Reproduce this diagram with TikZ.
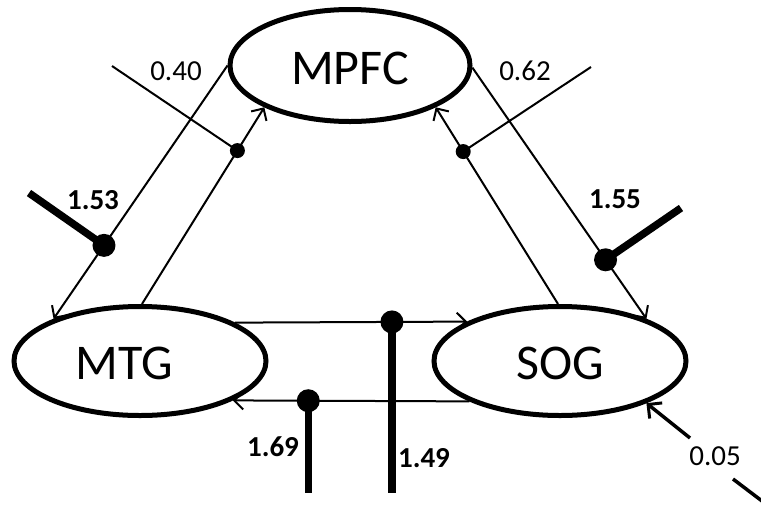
\documentclass[tikz,border=0pt]{standalone}
\usepackage{fontspec}
\setmainfont{Carlito}
\usetikzlibrary{arrows.meta,shapes.geometric}
\begin{document}
\begin{tikzpicture}[x=1pt,y=-1pt,
  region/.style={draw, ellipse, line width=5pt, minimum width=252pt, minimum height=109pt, inner sep=0pt, font=\fontsize{50}{60}\selectfont},
  conn/.style={line width=2pt, -{Straight Barb[length=9pt,width=18pt,line width=2pt]}},
  connext/.style={line width=3.5pt, -{Straight Barb[length=10pt,width=20pt,line width=3pt]}},
  modthin/.style={line width=2pt},
  modext/.style={line width=3.5pt},
  modthick/.style={line width=7.5pt},
  dotsmall/.style={circle, fill, inner sep=0pt, minimum size=15pt},
  dotbig/.style={circle, fill, inner sep=0pt, minimum size=23pt},
  lab/.style={inner sep=0pt, font=\fontsize{29}{34}\selectfont},
  blab/.style={inner sep=0pt, font=\fontsize{29}{34}\selectfont\bfseries}
]
\useasboundingbox (0,0) rectangle (761,507);

\node[region, minimum width=240pt, minimum height=112pt] (MPFC) at (350,65.5) {\raisebox{-3pt}[\height][\depth]{MPFC}};
\node[region] (MTG) at (140,361) {\raisebox{-2pt}[\height][\depth]{MTG\kern32pt}};
\node[region] (SOG) at (560,361) {\raisebox{-2pt}[\height][\depth]{SOG}};

\coordinate (m40) at (112,66);
\coordinate (m62) at (591,67);
\coordinate (t53) at (29,193);
\coordinate (t55) at (681,208);
\coordinate (bot) at (0,493);
\coordinate (e0) at (762,501);
\coordinate (e1) at (733,479);
\coordinate (e2) at (690,438);

\draw[conn] (MTG.88) -- node[dotsmall, pos=0.78] (d40) {} (MPFC.-154.5);
\draw[conn] (MPFC.180) -- node[dotbig, pos=0.71] (d53) {} (MTG.154);
\draw[conn] (SOG.92) -- node[dotsmall, pos=0.775] (d62) {} (MPFC.-26);
\draw[conn] (MPFC.-1) -- node[dotbig, pos=0.765] (d55) {} (SOG.26);
\draw[conn] (MTG.22.6) -- node[dotbig, pos=0.676] (d49) {} (SOG.157.4);
\draw[conn] (SOG.-156.4) -- node[dotbig, pos=0.681] (d69) {} (MTG.-23.6);

\draw[modthin] (m40) -- (d40.center);
\draw[modthin] (m62) -- (d62.center);
\draw[modthick] (t53) -- (d53.center);
\draw[modthick] (t55) -- (d55.center);
\draw[modthick] (d49.center) -- (d49.center |- bot);
\draw[modthick] (d69.center) -- (d69.center |- bot);

\draw[modext] (e0) -- (e1);
\draw[connext] (e2) -- (SOG.-26);

\node[lab] (l40) at (176,71) {0.40};
\node[lab] (l62) at (525,71) {0.62};
\node[blab] (l53) at (93,200) {1.53};
\node[blab] (l55) at (615,199) {1.55};
\node[blab] (l49) at (424,458) {1.49};
\node[blab] (l69) at (273,447) {1.69};
\node[lab] (l05) at (715,456) {0.05};
\end{tikzpicture}
\end{document}
